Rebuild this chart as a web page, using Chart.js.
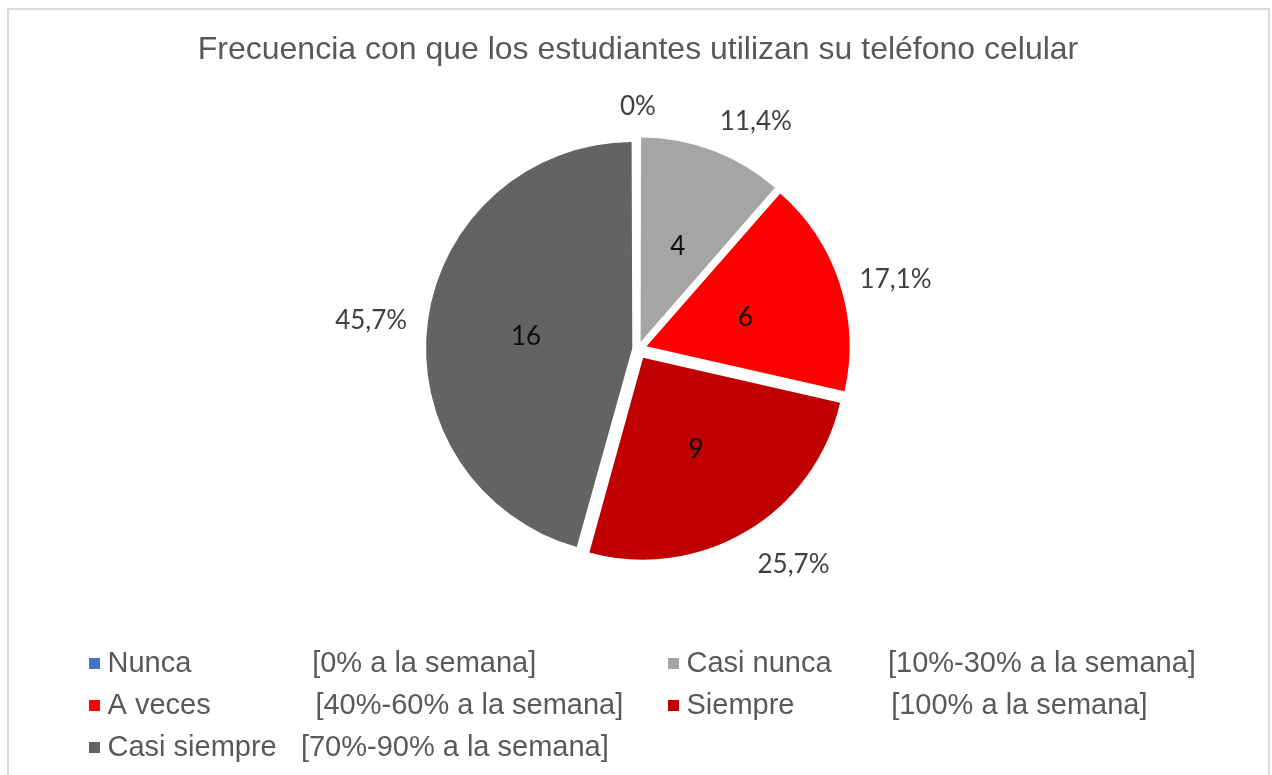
<!DOCTYPE html>
<html>
<head>
<meta charset="utf-8">
<script src="https://cdn.jsdelivr.net/npm/chart.js@4.4.1/dist/chart.umd.min.js"></script>
<style>
  html, body { margin: 0; padding: 0; background: #fff; overflow: hidden; }
  #wrap { position: relative; width: 1272px; height: 775px; }
  #frame { position: absolute; left: 7px; top: 8px; width: 1259px; height: 900px; border: 2px solid #d9d9d9; }
  canvas { position: absolute; left: 0; top: 0; }
</style>
</head>
<body>
<div id="wrap">
  <div id="frame"></div>
  <canvas id="pieChart" width="1272" height="775"></canvas>
</div>
<script>
const categories = [
    'Nunca' + ' '.repeat(15) + '[0% a la semana]',
    'Casi nunca' + ' '.repeat(7) + '[10%-30% a la semana]',
    'A veces' + ' '.repeat(13) + '[40%-60% a la semana]',
    'Siempre' + ' '.repeat(12) + '[100% a la semana]',
    'Casi siempre' + ' '.repeat(3) + '[70%-90% a la semana]'
];
const values = [0, 4, 6, 9, 16];
const colors = ['#4472C4', '#A5A5A5', '#FF0000', '#C00000', '#636363'];

const total = values.reduce((a, b) => a + b, 0);
const explode = 10; // px every slice is pulled out

// chart.js moves an arc by offset/4 * (2 - sin(circumference)); undo that so all gaps are even
const offsets = values.map(v => {
    const circ = v / total * 2 * Math.PI;
    return explode * 4 / (2 - Math.sin(Math.min(Math.PI, circ)));
});

const sliceLabels = {
    id: 'sliceLabels',
    afterDatasetsDraw(chart) {
        const ctx = chart.ctx;
        const meta = chart.getDatasetMeta(0);
        meta.data.forEach((arc, i) => {
            const { x, y, startAngle, endAngle, outerRadius } =
                arc.getProps(['x', 'y', 'startAngle', 'endAngle', 'outerRadius'], true);
            const mid = (startAngle + endAngle) / 2;
            const dx = Math.cos(mid), dy = Math.sin(mid);
            const shift = offsets[i] / 4 * (2 - Math.sin(Math.min(Math.PI, endAngle - startAngle)));
            const ox = x + dx * shift, oy = y + dy * shift + 3;

            ctx.save();
            ctx.textAlign = 'center';
            ctx.textBaseline = 'middle';
            ctx.font = '26px Lato, "Open Sans", sans-serif';
            if (values[i] > 0) {
                ctx.fillStyle = '#0d0d0d';
                ctx.fillText(String(values[i]), ox + dx * outerRadius * 0.51, oy + dy * outerRadius * 0.51);
            }
            const pct = values[i] / total * 100;
            const txt = pct === 0 ? '0%' : pct.toFixed(1).replace('.', ',') + '%';
            const w = ctx.measureText(txt).width, h = 24;
            const ax = ox + dx * (outerRadius + 21), ay = oy + dy * (outerRadius + 21);
            const sx = Math.max(-1, Math.min(1, dx / 0.2));
            const sy = dy > 0.5 ? 1 : dy < -0.5 ? -1 : 0;
            ctx.fillStyle = '#404040';
            ctx.fillText(txt, ax + sx * w / 2, ay + sy * h / 2);
            ctx.restore();
        });
    }
};

const gridLegend = {
    id: 'gridLegend',
    afterDraw(chart) {
        const ctx = chart.ctx;
        ctx.save();
        ctx.font = '29px "Liberation Sans", Arial, sans-serif';
        ctx.textBaseline = 'middle';
        ctx.textAlign = 'left';
        categories.forEach((label, i) => {
            const x = i % 2 ? 668 : 89;
            const y = 663.5 + Math.floor(i / 2) * 42;
            ctx.fillStyle = colors[i];
            ctx.fillRect(x, y - 5.5, 11, 11);
            ctx.fillStyle = '#595959';
            ctx.fillText(label, x + 18.5, y + 0.5);
        });
        ctx.restore();
    }
};

window.onload = () => {
    const ctx = document.getElementById('pieChart').getContext('2d');
    new Chart(ctx, {
        type: 'pie',
        data: {
            labels: categories,
            datasets: [{
                data: values,
                backgroundColor: colors,
                borderWidth: 0,
                offset: offsets,
                hoverOffset: 0,
                radius: 202
            }]
        },
        options: {
            responsive: false,
            animation: false,
            events: [],
            layout: { padding: { left: 4, right: 0, top: 0, bottom: 154 } },
            plugins: {
                legend: { display: false },
                tooltip: { enabled: false },
                title: {
                    display: true,
                    text: 'Frecuencia con que los estudiantes utilizan su teléfono celular',
                    color: '#595959',
                    font: { family: '"Liberation Sans", Arial, sans-serif', size: 32, weight: 'normal', lineHeight: 1.2 },
                    padding: { top: 30.8, bottom: 8 }
                }
            }
        },
        plugins: [sliceLabels, gridLegend]
    });
};
</script>
</body>
</html>
